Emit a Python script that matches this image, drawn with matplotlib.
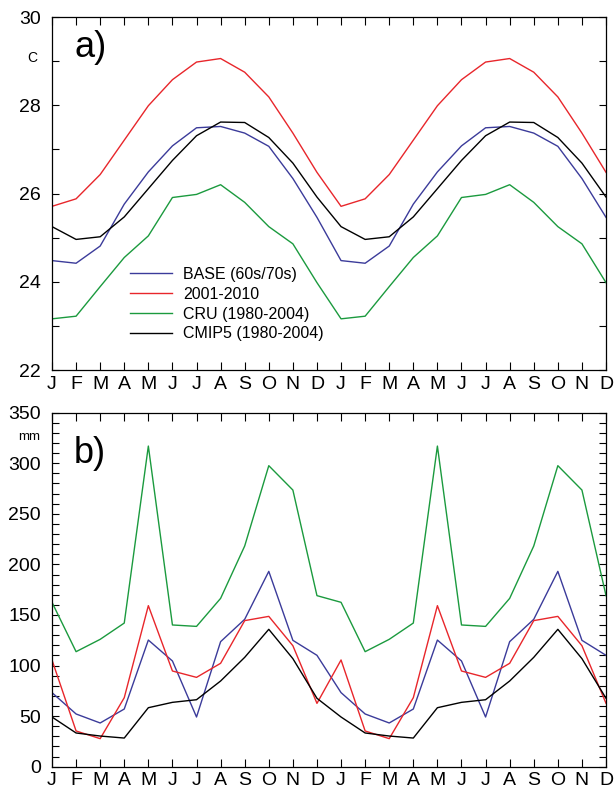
import numpy as np
import matplotlib
matplotlib.use('Agg')
import matplotlib.pyplot as plt

plt.rcParams['font.family'] = ['Liberation Sans', 'DejaVu Sans']

# -----------------------------------------------
# -             DATA                            -
# -----------------------------------------------
months = ['J', 'F', 'M', 'A', 'M', 'J', 'J', 'A', 'S', 'O', 'N', 'D']
labels = ['BASE (60s/70s)', '2001-2010', 'CRU (1980-2004)', 'CMIP5 (1980-2004)']
colors = ['#3b3b9a', '#e8262b', '#1b9a3e', '#000000']

# temperature (C)
temp_base = [24.48, 24.42, 24.81, 25.76, 26.49, 27.08, 27.49, 27.52, 27.37, 27.07, 26.34, 25.46]
temp_2001 = [25.71, 25.88, 26.43, 27.21, 27.99, 28.58, 28.98, 29.06, 28.75, 28.19, 27.37, 26.48]
temp_cru = [23.16, 23.22, 23.89, 24.55, 25.04, 25.91, 25.98, 26.20, 25.80, 25.25, 24.86, 23.98]
temp_cmip5 = [25.25, 24.96, 25.02, 25.47, 26.11, 26.75, 27.31, 27.62, 27.61, 27.27, 26.69, 25.92]

# precipitation (mm)
pr_base = [73.2, 52.1, 43.2, 57.0, 125.2, 104.5, 49.1, 123.6, 145.7, 193.1, 124.9, 110.1]
pr_2001 = [105.5, 35.3, 27.7, 68.2, 159.2, 94.6, 88.3, 102.2, 144.4, 148.6, 119.6, 62.6]
pr_cru = [162.5, 113.7, 125.9, 142.0, 317.0, 140.1, 138.7, 166.4, 218.2, 297.6, 273.5, 169.1]
pr_cmip5 = [49.1, 33.3, 30.3, 28.3, 58.3, 63.6, 66.2, 84.7, 108.1, 135.8, 106.8, 67.6]

# two years shown back to back
x = np.arange(24)
xlabels = months * 2

# -----------------------------------------------
# -         PLOT DATA                           -
# -----------------------------------------------
fig = plt.figure(figsize=(6.16, 7.93), dpi=100)
ax1 = fig.add_axes([0.0844, 0.5334, 0.8994, 0.4451])
ax2 = fig.add_axes([0.0844, 0.0332, 0.8994, 0.4464])

for ys, c, lab in zip([temp_base, temp_2001, temp_cru, temp_cmip5], colors, labels):
    ax1.plot(x, ys * 2, color=c, lw=1.0, label=lab)
for ys, c in zip([pr_base, pr_2001, pr_cru, pr_cmip5], colors):
    ax2.plot(x, ys * 2, color=c, lw=1.0)

ax1.set_ylim(22, 30)
ax1.set_yticks([22, 24, 26, 28, 30])
ax1.set_yticks(np.arange(22, 31, 1), minor=True)
ax2.set_ylim(0, 350)
ax2.set_yticks(np.arange(0, 351, 50))
ax2.set_yticks(np.arange(0, 351, 10), minor=True)

for ax in (ax1, ax2):
    ax.set_xlim(0, 23)
    ax.set_xticks(x)
    ax.set_xticklabels(xlabels)
    ax.tick_params(axis='both', which='both', direction='in', top=True, right=True,
                   labelsize=14, width=0.8)
    ax.tick_params(axis='x', length=6, pad=4)
    ax.tick_params(axis='y', which='major', length=5, pad=8)
    ax.tick_params(axis='y', which='minor', length=5)
    for s in ax.spines.values():
        s.set_linewidth(0.9)

# unit labels
ax1.text(-0.027, 0.884, 'C', transform=ax1.transAxes, fontsize=10, ha='right', va='center')
ax2.text(-0.022, 0.931, 'mm', transform=ax2.transAxes, fontsize=9.5, ha='right', va='center')

ax1.text(0.04, 0.915, 'a)', transform=ax1.transAxes, fontsize=26, va='center')
ax2.text(0.04, 0.885, 'b)', transform=ax2.transAxes, fontsize=26, va='center')

ax1.legend(loc='upper left', bbox_to_anchor=(0.13, 0.31), frameon=False,
           fontsize=11.5, handlelength=2.6, handletextpad=0.7, labelspacing=0.3,
           borderaxespad=0)

plt.savefig('out.png', dpi=100)
